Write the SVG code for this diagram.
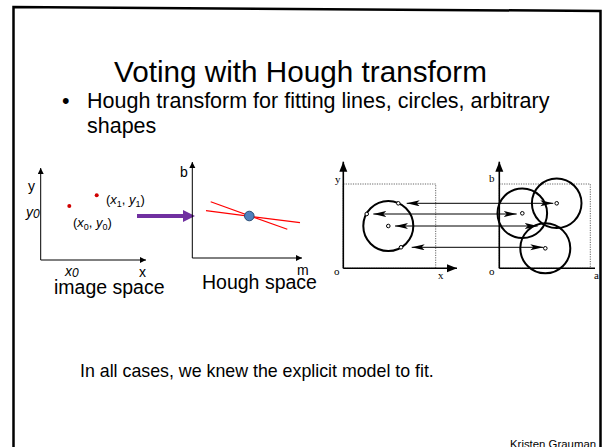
<svg xmlns="http://www.w3.org/2000/svg" width="602" height="447" viewBox="0 0 602 447">
<style>
.s{font-family:"Liberation Sans",Arial,sans-serif;fill:#000}
.r{font-family:"Liberation Serif","Times New Roman",serif;fill:#000;font-size:11px}
.ax{stroke:#000;stroke-width:1;fill:none}
.ax2{stroke:#000;stroke-width:1.6;fill:none}
.dot{stroke:#666;stroke-width:1;stroke-dasharray:1.2 1.2;fill:none}
.c{stroke:#000;stroke-width:2;fill:none}
.p{stroke:#000;stroke-width:1;fill:#fff}
.ar{stroke:#000;stroke-width:1;marker-start:url(#ah);marker-end:url(#ah)}
</style>
<defs>
<marker id="sa" markerUnits="userSpaceOnUse" markerWidth="8" markerHeight="8" refX="6" refY="3" orient="auto"><path d="M0,0 L6,3 L0,6 Z" fill="#000"/></marker>
<marker id="ba" markerUnits="userSpaceOnUse" markerWidth="12" markerHeight="10" refX="10" refY="4" orient="auto"><path d="M0,0 L10,4 L0,8 Z" fill="#000"/></marker>
<marker id="ah" markerUnits="userSpaceOnUse" markerWidth="14" markerHeight="8" refX="13" refY="3" orient="auto-start-reverse"><path d="M0,0 L13,3 L0,6 L3,3 Z" fill="#000"/></marker>
</defs>
<rect width="602" height="447" fill="#fff"/>
<path d="M13.5,447 L13.5,7 L600.5,11 L600.5,447" fill="none" stroke="#000" stroke-width="2.5"/>

<g id="title"><text class="s" x="300.5" y="82" font-size="29.7" text-anchor="middle">Voting with Hough transform</text></g>
<g id="bullet">
<text class="s" x="62" y="108" font-size="21.5">•</text>
<text class="s" x="87" y="108" font-size="21.5">Hough transform for fitting lines, circles, arbitrary</text>
<text class="s" x="87" y="133" font-size="21.5">shapes</text>
</g>

<g id="image-space">
<line class="ax" x1="40.7" y1="260" x2="40.7" y2="168" marker-end="url(#sa)"/>
<line class="ax" x1="40.7" y1="260" x2="146" y2="260" marker-end="url(#sa)"/>
<text class="s" x="28" y="191" font-size="14">y</text>
<text class="s" x="26" y="217" font-size="14" font-style="italic">y<tspan font-size="12" dy="1">0</tspan></text>
<circle cx="69.3" cy="206" r="2" fill="#d00000"/>
<circle cx="96.7" cy="195.3" r="2" fill="#d00000"/>
<text class="s" x="106" y="204" font-size="13">(<tspan font-style="italic">x</tspan><tspan font-size="9" dy="3">1</tspan><tspan dy="-3">, </tspan><tspan font-style="italic">y</tspan><tspan font-size="9" dy="3">1</tspan><tspan dy="-3">)</tspan></text>
<text class="s" x="73" y="227" font-size="13">(<tspan font-style="italic">x</tspan><tspan font-size="9" dy="3">0</tspan><tspan dy="-3">, </tspan><tspan font-style="italic">y</tspan><tspan font-size="9" dy="3">0</tspan><tspan dy="-3">)</tspan></text>
<text class="s" x="65" y="276" font-size="14" font-style="italic">x<tspan font-size="12" dy="1">0</tspan></text>
<text class="s" x="139" y="277" font-size="14">x</text>
<text class="s" x="54" y="294" font-size="19.5">image space</text>
</g>

<g id="vote-arrow">
<line x1="137" y1="216" x2="184" y2="216" stroke="#7030a0" stroke-width="4"/>
<path d="M183,210 L195,216 L183,222 Z" fill="#7030a0"/>
</g>

<g id="hough-space">
<line class="ax" x1="192.3" y1="258" x2="192.3" y2="162" marker-end="url(#sa)"/>
<line class="ax" x1="192.3" y1="258" x2="302" y2="258" marker-end="url(#sa)"/>
<text class="s" x="180" y="177" font-size="14">b</text>
<line x1="210.7" y1="201.7" x2="287.3" y2="229.3" stroke="#ff0000" stroke-width="1.2"/>
<line x1="206" y1="210.7" x2="300" y2="222.7" stroke="#ff0000" stroke-width="1.2"/>
<circle cx="249.3" cy="216" r="4.8" fill="#4f81bd" stroke="#2c4d75" stroke-width="1"/>
<text class="s" x="297" y="275" font-size="14">m</text>
<text class="s" x="202" y="289" font-size="19.5">Hough space</text>
</g>

<g id="circle-image-space">
<rect class="dot" x="343.3" y="184" width="92.4" height="84.3"/>
<line class="ax2" x1="343.3" y1="268.3" x2="343.3" y2="161.7" marker-end="url(#ba)"/>
<line class="ax2" x1="343.3" y1="268.3" x2="457" y2="268.3" marker-end="url(#ba)"/>
<text class="r" x="335" y="183">y</text>
<text class="r" x="334" y="275">o</text>
<text class="r" x="438" y="279">x</text>
<circle class="c" cx="388.3" cy="226" r="25"/>
</g>

<g id="circle-param-space">
<rect class="dot" x="499.3" y="184" width="91" height="84.3"/>
<line class="ax2" x1="499.3" y1="268.3" x2="499.3" y2="161.7" marker-end="url(#ba)"/>
<line class="ax2" x1="499.3" y1="268.3" x2="595" y2="268.3"/>
<text class="r" x="489" y="182">b</text>
<text class="r" x="489" y="275">o</text>
<text class="r" x="594" y="279">a</text>
<circle class="c" cx="522.3" cy="213.3" r="24.8"/>
<circle class="c" cx="556.7" cy="203.3" r="24.8"/>
<circle class="c" cx="545.3" cy="248.3" r="25"/>
</g>

<g id="connectors">
<line class="ar" x1="406.7" y1="203.3" x2="553.3" y2="203.3"/>
<line class="ar" x1="373.3" y1="214" x2="516.7" y2="214"/>
<line class="ar" x1="395" y1="226" x2="537.7" y2="226"/>
<line class="ar" x1="411.7" y1="247.3" x2="543.3" y2="247.3"/>
</g>

<g id="points">
<circle class="p" cx="398.3" cy="203.3" r="1.8"/>
<circle class="p" cx="366.7" cy="214" r="1.8"/>
<circle class="p" cx="388.3" cy="226" r="1.8"/>
<circle class="p" cx="401" cy="247.3" r="1.8"/>
<circle class="p" cx="556.7" cy="203.3" r="1.8"/>
<circle class="p" cx="522.3" cy="213.3" r="1.8"/>
<circle class="p" cx="545.3" cy="248.3" r="1.8"/>
</g>

<g id="footer">
<text class="s" x="80" y="376.7" font-size="17.8">In all cases, we knew the explicit model to fit.</text>
<text class="s" x="510" y="447.5" font-size="11.4">Kristen Grauman</text>
</g>
</svg>
